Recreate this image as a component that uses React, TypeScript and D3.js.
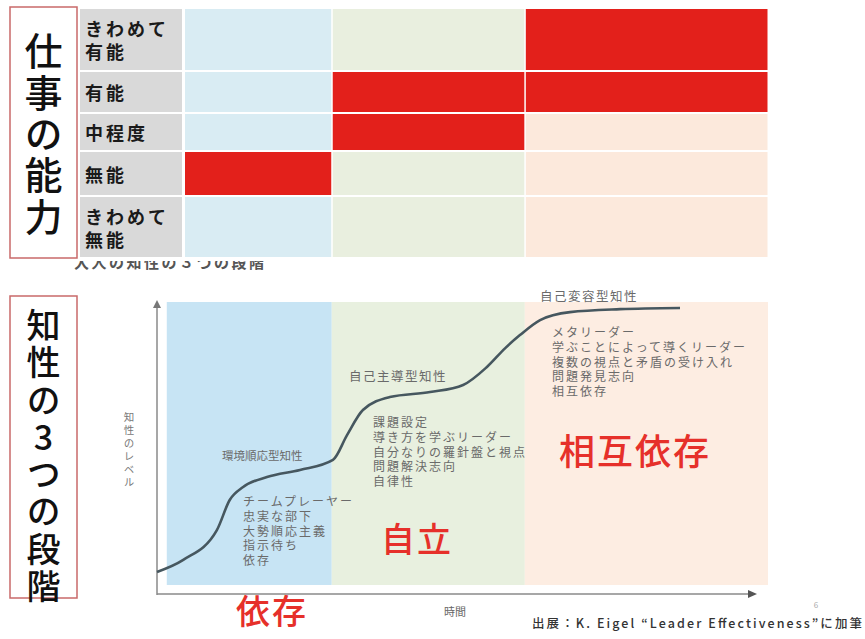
import * as d3 from 'd3';

// 仕事の能力 (rows) x 知性の段階 (columns)
const stages = ['依存', '自立', '相互依存'];
const abilityLevels = ['きわめて有能', '有能', '中程度', '無能', 'きわめて無能'];
const abilityLabels = [['きわめて', '有能'], ['有能'], ['中程度'], ['無能'], ['きわめて', '無能']];
const stageAbilities = [['無能'], ['有能', '中程度'], ['きわめて有能', '有能']];

// 知性の3つの段階: time axis 0..100, level axis 0..100
const stageStart = 1.6;
const stageEnds = [28.6, 60.2, 100];
const curveTime = [0, 4.3, 9.8, 11.9, 14.1, 18.0, 23.4, 28.8, 31.1, 33.7, 38.1, 44.7, 50.1, 54.0, 57.0, 59.4, 62.7, 67.6, 75.8, 85.6];
const curveLevel = [7.8, 11.9, 22.0, 32.2, 36.6, 40.0, 42.4, 45.8, 54.2, 62.7, 67.1, 68.8, 71.2, 77.3, 83.7, 88.1, 93.2, 95.9, 96.9, 97.3];
const stageMindNames = ['環境順応型知性', '自己主導型知性', '自己変容型知性'];
const stageTraits = [
  ['チームプレーヤー', '忠実な部下', '大勢順応主義', '指示待ち', '依存'],
  ['課題設定', '導き方を学ぶリーダー', '自分なりの羅針盤と視点', '問題解決志向', '自律性'],
  ['メタリーダー', '学ぶことによって導くリーダー', '複数の視点と矛盾の受け入れ', '問題発見志向', '相互依存'],
];

const W = 865;
const H = 639;
const FONT = '"Noto Sans CJK JP", "Noto Sans", sans-serif';

const topBg = ['#d9ecf3', '#e9efdf', '#fce9dc'];
const botBg = ['#c7e4f4', '#e8f0df', '#fdede2'];
const RED = '#e3201b';

const xScale = d3.scaleLinear().domain([0, 100]).range([157, 768]);
const yScale = d3.scaleLinear().domain([0, 100]).range([595, 300]);

const topLeft = 184;
const rowEdges = [8, 71, 113, 151, 196, 258];

// annotation anchors (px)
const nameAnchors: [number, number, number][] = [
  [222, 460, 11.5],
  [349, 381, 12.5],
  [540, 301, 12.5],
];
const traitAnchors: [number, number][] = [
  [243, 506],
  [373, 427],
  [552, 337],
];
const bigLabelPos: [number, number, number][] = [
  [272, 624, 34],
  [417, 552, 34],
  [635, 465, 36],
];

const vertical = { writingMode: 'vertical-rl', textOrientation: 'upright' } as const;

const App = () => {
  const colEdges = [topLeft, ...stageEnds.map((d) => xScale(d))];
  const bandEdges = [xScale(stageStart), ...stageEnds.map((d) => xScale(d))];
  const line = d3
    .line<number>()
    .x((_, i) => xScale(curveTime[i]))
    .y((d) => yScale(d))
    .curve(d3.curveMonotoneX);

  return (
    <svg width={W} height={H} style={{ position: 'absolute', left: 0, top: 0, background: '#fff' }} fontFamily={FONT}>
      <defs>
        <clipPath id="hiddenTitle">
          <rect x={60} y={261} width={300} height={30} />
        </clipPath>
      </defs>

      {/* partly hidden caption under the grid */}
      <text x={74} y={268} fontSize={15} fill="#555" fontWeight={700} textLength={190} lengthAdjust="spacing" clipPath="url(#hiddenTitle)">
        大人の知性の３つの段階
      </text>

      {/* ---- top: 仕事の能力 ---- */}
      <rect x={10} y={7} width={67} height={251} fill="#fff" stroke="#c9696a" strokeWidth={1.5} />
      <text x={43.5} y={32} fontSize={38} fontWeight={500} letterSpacing={3.3} fill="#111" style={vertical}>
        仕事の能力
      </text>

      {abilityLevels.map((lvl, r) => {
        const y0 = rowEdges[r] + 1;
        const y1 = rowEdges[r + 1] - 1;
        const cy = (y0 + y1) / 2;
        const lines = abilityLabels[r];
        return (
          <g key={lvl}>
            <rect x={80} y={y0} width={102} height={y1 - y0} fill="#d9d9d9" />
            {lines.map((t, k) => (
              <text
                key={t}
                x={85}
                y={cy + (k - (lines.length - 1) / 2) * 23}
                fontSize={18}
                fontWeight={700}
                letterSpacing={3}
                dominantBaseline="central"
                fill="#1a1a1a"
              >
                {t}
              </text>
            ))}
            {stages.map((s, c) => (
              <rect
                key={s}
                x={colEdges[c] + 1}
                y={y0}
                width={colEdges[c + 1] - colEdges[c] - 1.5}
                height={y1 - y0}
                fill={stageAbilities[c].includes(lvl) ? RED : topBg[c]}
              />
            ))}
          </g>
        );
      })}

      {/* ---- bottom: 知性の3つの段階 ---- */}
      <rect x={10} y={296} width={67} height={302} fill="#fff" stroke="#c9696a" strokeWidth={1.5} />
      <text x={43.5} y={308} fontSize={34} fontWeight={500} letterSpacing={3.3} fill="#111" style={vertical}>
        知性の3つの段階
      </text>

      {stages.map((s, c) => (
        <rect key={s} x={bandEdges[c]} y={yScale(100) + 2} width={bandEdges[c + 1] - bandEdges[c]} height={yScale(3.4) - yScale(100) - 2} fill={botBg[c]} />
      ))}

      {/* axes */}
      <line x1={xScale(0)} y1={yScale(0)} x2={xScale(0)} y2={yScale(100) + 4} stroke="#8a8a8a" strokeWidth={1.5} />
      <path d={`M${xScale(0) - 4},${yScale(100) + 8} L${xScale(0)},${yScale(100)} L${xScale(0) + 4},${yScale(100) + 8} Z`} fill="#777" />
      <line x1={xScale(0)} y1={yScale(0) - 1} x2={752} y2={yScale(0) - 1} stroke="#8a8a8a" strokeWidth={1.5} />
      <path d={`M748,${yScale(0) - 5} L757,${yScale(0) - 1} L748,${yScale(0) + 3} Z`} fill="#555" />

      <text x={129} y={412} fontSize={10.5} letterSpacing={2.5} fill="#777" style={vertical}>
        知性のレベル
      </text>
      <text x={455} y={616} fontSize={11} textAnchor="middle" fill="#666">
        時間
      </text>

      {/* curve */}
      <path d={line(curveLevel) ?? ''} fill="none" stroke="#46575f" strokeWidth={2.6} />

      {stageMindNames.map((n, i) => (
        <text key={n} x={nameAnchors[i][0]} y={nameAnchors[i][1]} fontSize={nameAnchors[i][2]} letterSpacing={i === 0 ? 0 : 1.5} fill="#6a6a6a">
          {n}
        </text>
      ))}
      {stageTraits.map((lines, i) => (
        <g key={i}>
          {lines.map((t, k) => (
            <text key={t} x={traitAnchors[i][0]} y={traitAnchors[i][1] + k * 14.8} fontSize={12} letterSpacing={2} fill="#6a6a6a">
              {t}
            </text>
          ))}
        </g>
      ))}

      {stages.map((s, i) => (
        <text
          key={s}
          x={bigLabelPos[i][0]}
          y={bigLabelPos[i][1]}
          fontSize={bigLabelPos[i][2]}
          fontWeight={500}
          letterSpacing={2}
          textAnchor="middle"
          fill="#e6302a"
        >
          {s}
        </text>
      ))}

      <text x={532} y={628} fontSize={12.5} fontWeight={500} fill="#333" textLength={330} lengthAdjust="spacing">
        出展：K. Eigel “Leader Effectiveness”に加筆
      </text>
      <text x={816} y={608} fontSize={8} fill="#aaa" textAnchor="middle">
        6
      </text>
    </svg>
  );
};

export default App;
